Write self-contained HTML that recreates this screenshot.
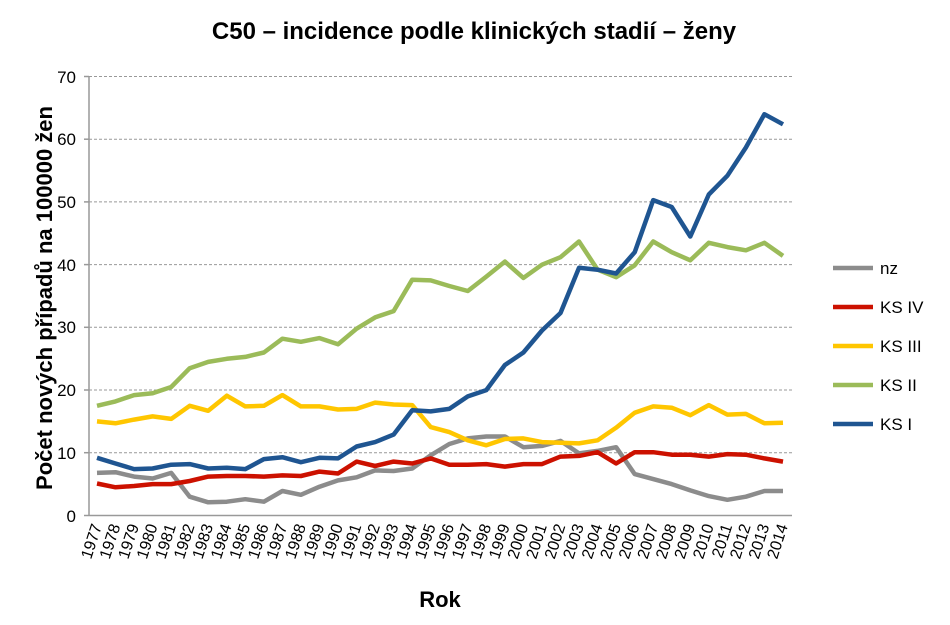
<!DOCTYPE html>
<html><head><meta charset="utf-8"><style>
html,body{margin:0;padding:0;background:#fff;}
svg{display:block;font-family:"Liberation Sans",Arial,sans-serif;}
</style></head><body>
<svg id="c" width="950" height="625" viewBox="0 0 950 625" xmlns="http://www.w3.org/2000/svg">
<text x="474" y="39" text-anchor="middle" font-size="24" font-weight="bold">C50 – incidence podle klinických stadií – ženy</text>
<g stroke="#999" stroke-width="1" stroke-dasharray="3,2">
<line x1="89" x2="792" y1="76.5" y2="76.5"/>
<line x1="89" x2="792" y1="139.2" y2="139.2"/>
<line x1="89" x2="792" y1="201.9" y2="201.9"/>
<line x1="89" x2="792" y1="264.6" y2="264.6"/>
<line x1="89" x2="792" y1="327.3" y2="327.3"/>
<line x1="89" x2="792" y1="390" y2="390"/>
<line x1="89" x2="792" y1="452.7" y2="452.7"/>
</g>
<line x1="89" x2="89" y1="76" y2="516" stroke="#999" stroke-width="1.5"/>
<line x1="84" x2="792" y1="515.5" y2="515.5" stroke="#999" stroke-width="1.5"/>
<g stroke="#999" stroke-width="1.5">
<line x1="84" x2="89" y1="76.5" y2="76.5"/><line x1="84" x2="89" y1="139.2" y2="139.2"/><line x1="84" x2="89" y1="201.9" y2="201.9"/><line x1="84" x2="89" y1="264.6" y2="264.6"/><line x1="84" x2="89" y1="327.3" y2="327.3"/><line x1="84" x2="89" y1="390" y2="390"/><line x1="84" x2="89" y1="452.7" y2="452.7"/>
</g>
<g font-size="17" text-anchor="end">
<text x="76" y="83">70</text><text x="76" y="145">60</text><text x="76" y="208">50</text><text x="76" y="271">40</text><text x="76" y="333">30</text><text x="76" y="396">20</text><text x="76" y="459">10</text><text x="76" y="522">0</text>
</g>
<text transform="translate(52,298) rotate(-90)" text-anchor="middle" font-size="22" font-weight="bold">Počet nových případů na 100000 žen</text>
<text x="440" y="607" text-anchor="middle" font-size="22" font-weight="bold">Rok</text>
<g id="xl" font-size="16" text-anchor="end">
<text>1977</text><text>1978</text><text>1979</text><text>1980</text><text>1981</text><text>1982</text><text>1983</text><text>1984</text><text>1985</text><text>1986</text><text>1987</text><text>1988</text><text>1989</text><text>1990</text><text>1991</text><text>1992</text><text>1993</text><text>1994</text><text>1995</text><text>1996</text><text>1997</text><text>1998</text><text>1999</text><text>2000</text><text>2001</text><text>2002</text><text>2003</text><text>2004</text><text>2005</text><text>2006</text><text>2007</text><text>2008</text><text>2009</text><text>2010</text><text>2011</text><text>2012</text><text>2013</text><text>2014</text>
</g>
<g id="lines" fill="none" stroke-width="4.5" stroke-linejoin="round"></g>
<g stroke-width="4.5">
<line x1="833" x2="873" y1="268" y2="268" stroke="#8c8c8c"/>
<line x1="833" x2="873" y1="307" y2="307" stroke="#cc1100"/>
<line x1="833" x2="873" y1="346" y2="346" stroke="#ffc600"/>
<line x1="833" x2="873" y1="385" y2="385" stroke="#9bbb59"/>
<line x1="833" x2="873" y1="424" y2="424" stroke="#1f5591"/>
</g>
<g font-size="17">
<text x="880" y="274">nz</text>
<text x="880" y="313">KS IV</text>
<text x="880" y="352">KS III</text>
<text x="880" y="391">KS II</text>
<text x="880" y="430">KS I</text>
</g>
</svg>
<script>
var d={
"#8c8c8c":[6.8,6.9,6.2,5.9,6.8,3,2.1,2.2,2.6,2.2,3.9,3.3,4.6,5.6,6.1,7.2,7.1,7.5,9.6,11.4,12.3,12.6,12.6,10.9,11.1,11.9,9.9,10.3,10.9,6.6,5.8,5,4,3.1,2.5,3,3.9,3.9],
"#cc1100":[5.1,4.5,4.7,5,5,5.5,6.2,6.3,6.3,6.2,6.4,6.3,7,6.7,8.6,7.9,8.6,8.3,9.1,8.1,8.1,8.2,7.8,8.2,8.2,9.4,9.5,10.1,8.3,10.1,10.1,9.7,9.7,9.4,9.8,9.7,9.1,8.6],
"#ffc600":[15,14.7,15.3,15.8,15.4,17.5,16.7,19.1,17.4,17.5,19.2,17.4,17.4,16.9,17,18,17.7,17.6,14.1,13.3,12,11.2,12.2,12.3,11.7,11.6,11.5,12,14,16.4,17.4,17.2,16,17.6,16.1,16.2,14.7,14.8],
"#9bbb59":[17.5,18.2,19.2,19.5,20.5,23.5,24.5,25,25.3,26,28.2,27.7,28.3,27.3,29.8,31.6,32.6,37.6,37.5,36.6,35.8,38.1,40.5,37.9,40,41.2,43.7,39.2,38,39.9,43.7,42,40.7,43.5,42.8,42.3,43.5,41.4],
"#1f5591":[9.2,8.3,7.4,7.5,8.1,8.2,7.5,7.6,7.4,9,9.3,8.5,9.2,9.1,11,11.7,12.9,16.8,16.6,17,19,20,24,26,29.5,32.3,39.5,39.2,38.6,42,50.3,49.2,44.5,51.2,54.2,58.7,64,62.4]};
var g=document.getElementById('lines'),ns="http://www.w3.org/2000/svg";
for(var c in d){var p=d[c].map(function(v,i){return (97+i*18.54).toFixed(1)+","+(515.5-v*6.27).toFixed(1)}).join(" ");
var e=document.createElementNS(ns,"polyline");e.setAttribute("points",p);e.setAttribute("stroke",c);g.appendChild(e);}
var t=document.querySelectorAll('#xl text');
t.forEach(function(el,i){var x=97+i*18.54+5;el.setAttribute("transform","translate("+x+",526) rotate(-72)");});
</script>
</body></html>
